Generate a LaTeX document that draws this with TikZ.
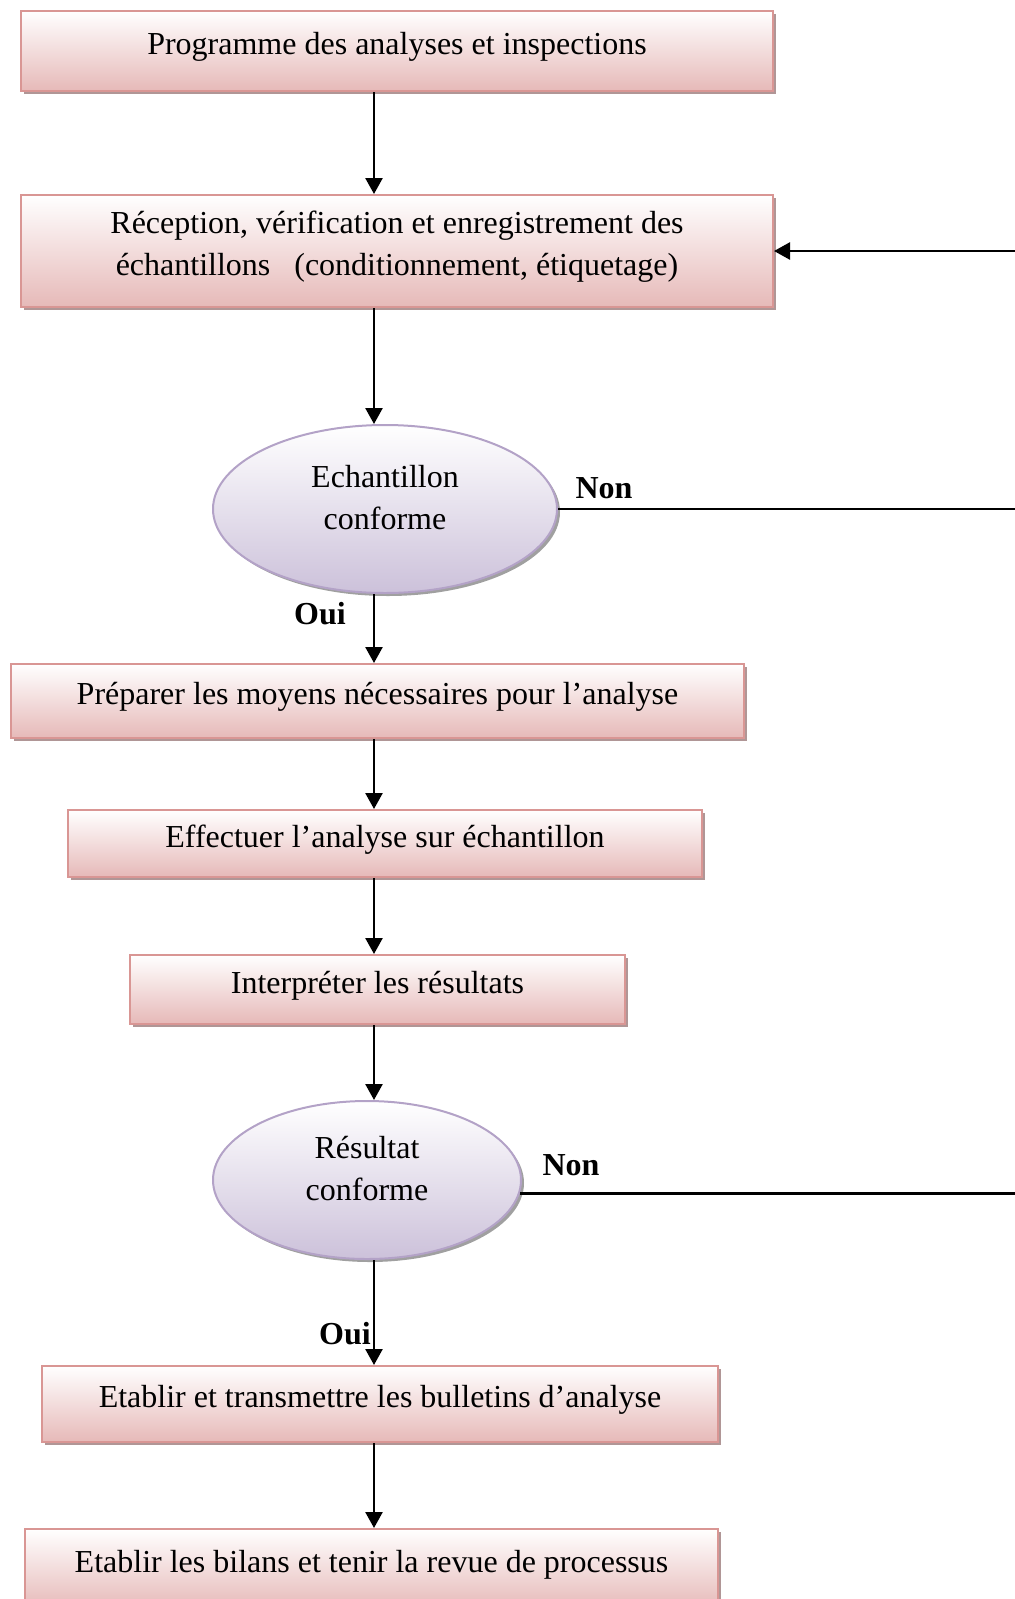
\documentclass[tikz,border=0pt]{standalone}
\usepackage{fontspec}
\setmainfont{Liberation Serif}
\usepackage{tikz}
\usetikzlibrary{arrows.meta}
\usetikzlibrary{shadows}
\usetikzlibrary{shapes.geometric}
\definecolor{pinkBottom}{HTML}{E6B9B8}
\definecolor{pinkLine}{HTML}{D99694}
\definecolor{pinkShadow}{HTML}{B09696}
\definecolor{lilacBottom}{HTML}{CCC1DA}
\definecolor{lilacLine}{HTML}{B3A2C7}
\definecolor{grayShadow}{HTML}{A0A0A0}

\begin{document}
\begin{tikzpicture}[x=1pt, y=-1pt, inner sep=0.0 pt, align=center,
    font=\fontsize{32}{42}\selectfont,
    stepbox/.style={rectangle, draw=pinkLine, line width=2pt, top color=white, bottom color=pinkBottom, text depth=15pt,
        drop shadow={shadow xshift=3pt, shadow yshift=-3pt, fill=pinkShadow, opacity=1}, anchor=north west},
    testnode/.style={ellipse, draw=lilacLine, line width=2pt, top color=white, bottom color=lilacBottom, text depth=24pt,
        drop shadow={shadow xshift=3pt, shadow yshift=-3pt, fill=grayShadow, opacity=1}},
    flow/.style={line width=2.5pt, -{Triangle[length=16pt, width=17pt]}},
    answer/.style={font=\fontsize{32}{42}\selectfont\bfseries}]

    \useasboundingbox (0,0) rectangle (1015,1599);
    \coordinate (spine) at (374,0);
    \coordinate (edgeR) at (1015,0);

    \node [stepbox, minimum width=752pt, minimum height=80pt] (prog) at (20,10) {Programme des analyses et inspections};
    \node [stepbox, minimum width=752pt, minimum height=112pt] (recep) at (20,194) {Réception, vérification et enregistrement des\\échantillons\ \ \ (conditionnement, étiquetage)};
    \node [testnode, minimum width=344pt, minimum height=168pt] (echconf) at (385,509) {Echantillon\\conforme};
    \node [stepbox, minimum width=733pt, minimum height=74pt] (prep) at (10,663) {Préparer les moyens nécessaires pour l’analyse};
    \node [stepbox, minimum width=634pt, minimum height=67pt] (effect) at (67,809) {Effectuer l’analyse sur échantillon};
    \node [stepbox, minimum width=495pt, minimum height=69pt] (interp) at (129,954) {Interpréter les résultats};
    \node [testnode, minimum width=308pt, minimum height=158pt] (resconf) at (367,1180) {Résultat\\conforme};
    \node [stepbox, minimum width=676pt, minimum height=76pt] (bullet) at (41,1365) {Etablir et transmettre les bulletins d’analyse};
    \node [stepbox, minimum width=693pt, minimum height=80pt] (bilan) at (24,1528) {Etablir les bilans et tenir la revue de processus};

    \node [answer] (non1) at (604,488) {Non};
    \node [answer] (oui1) at (320,614) {Oui};
    \node [answer] (non2) at (571,1165) {Non};
    \node [answer] (oui2) at (345,1334) {Oui};

    \draw [flow] (prog.south -| spine) -- (recep.north -| spine);
    \draw [flow] (recep.south -| spine) -- (echconf.north -| spine);
    \draw [flow] (echconf.south -| spine) -- (prep.north -| spine);
    \draw [flow] (prep.south -| spine) -- (effect.north -| spine);
    \draw [flow] (effect.south -| spine) -- (interp.north -| spine);
    \draw [flow] (interp.south -| spine) -- (resconf.north -| spine);
    \draw [flow] (resconf.south -| spine) -- (bullet.north -| spine);
    \draw [flow] (bullet.south -| spine) -- (bilan.north -| spine);

    % retours "Non"
    \draw [flow] (edgeR |- recep.east) -- (recep.east);
    \draw [line width=2.5pt] (echconf.east) -- (echconf.east -| edgeR);
    \draw [line width=2.5pt] (resconf.-5) -- (resconf.-5 -| edgeR);

\end{tikzpicture}
\end{document}
